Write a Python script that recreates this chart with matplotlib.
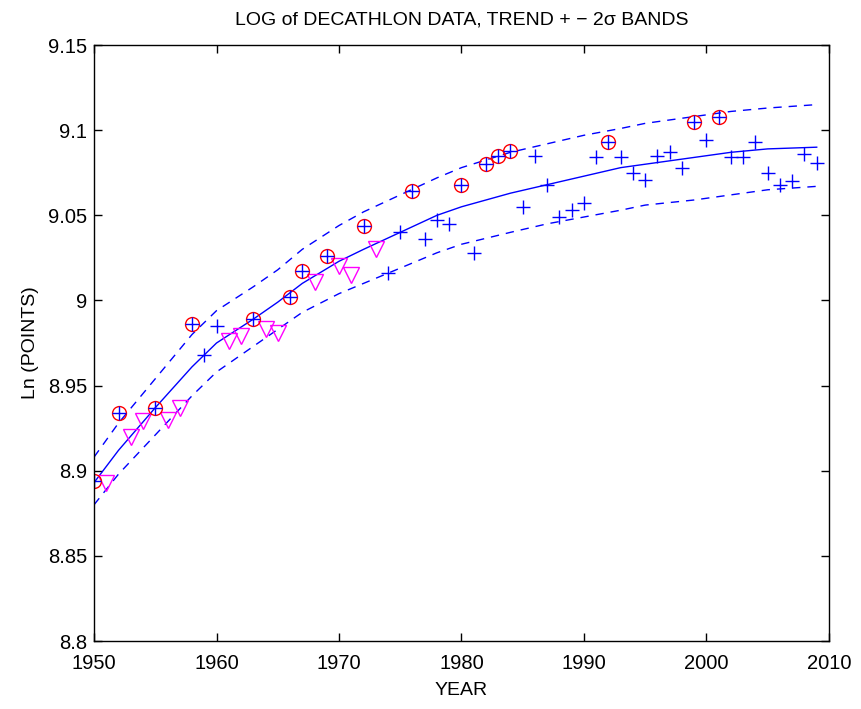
import matplotlib
matplotlib.use("Agg")
import matplotlib.pyplot as plt

# all observed years (blue plus)
plus_years = [1950, 1952, 1955, 1958, 1959, 1960, 1963, 1966, 1967, 1969, 1972,
              1974, 1975, 1976, 1977, 1978, 1979, 1980, 1981, 1982, 1983, 1984,
              1985, 1986, 1987, 1988, 1989, 1990, 1991, 1992, 1993, 1994, 1995,
              1996, 1997, 1998, 1999, 2000, 2001, 2002, 2003, 2004, 2005, 2006,
              2007, 2008, 2009]
plus_vals = [8.894, 8.934, 8.937, 8.986, 8.968, 8.985, 8.989, 9.002, 9.017, 9.026, 9.044,
             9.016, 9.040, 9.064, 9.036, 9.047, 9.045, 9.068, 9.028, 9.080, 9.085, 9.088,
             9.055, 9.085, 9.068, 9.049, 9.053, 9.057, 9.084, 9.093, 9.084, 9.075, 9.071,
             9.085, 9.087, 9.078, 9.105, 9.094, 9.108, 9.084, 9.084, 9.093, 9.075, 9.068,
             9.070, 9.086, 9.081]

# record points (red circles)
rec_years = [1950, 1952, 1955, 1958, 1963, 1966, 1967, 1969, 1972, 1976, 1980,
             1982, 1983, 1984, 1992, 1999, 2001]
rec_vals = [8.894, 8.934, 8.937, 8.986, 8.989, 9.002, 9.017, 9.026, 9.044, 9.064, 9.068,
            9.080, 9.085, 9.088, 9.093, 9.105, 9.108]

# missing years (magenta triangles)
tri_years = [1951, 1953, 1954, 1956, 1957, 1961, 1962, 1964, 1965, 1968, 1970, 1971, 1973]
tri_vals = [8.893, 8.920, 8.929, 8.930, 8.937, 8.976, 8.979, 8.983, 8.981, 9.011, 9.020, 9.015, 9.030]

# trend and +-2 sigma bands
line_years = [1950, 1952, 1955, 1958, 1960, 1963, 1965, 1967, 1970, 1972, 1975,
              1978, 1980, 1984, 1987, 1990, 1993, 1995, 1999, 2002, 2005, 2009]
trend = [8.893, 8.912, 8.937, 8.961, 8.975, 8.989, 8.999, 9.010, 9.023, 9.030, 9.040,
         9.050, 9.055, 9.063, 9.068, 9.073, 9.078, 9.080, 9.084, 9.087, 9.089, 9.090]
upper = [8.908, 8.928, 8.954, 8.980, 8.994, 9.008, 9.018, 9.030, 9.044, 9.052, 9.062,
         9.072, 9.078, 9.087, 9.092, 9.097, 9.101, 9.104, 9.108, 9.111, 9.113, 9.115]
lower = [8.880, 8.898, 8.921, 8.944, 8.958, 8.973, 8.983, 8.993, 9.004, 9.010, 9.019,
         9.028, 9.033, 9.040, 9.045, 9.049, 9.053, 9.056, 9.059, 9.062, 9.065, 9.067]

xticks = [1950, 1960, 1970, 1980, 1990, 2000, 2010]
yticks = [8.8, 8.85, 8.9, 8.95, 9.0, 9.05, 9.1, 9.15]
ytick_labels = ["8.8", "8.85", "8.9", "8.95", "9", "9.05", "9.1", "9.15"]

plt.rcParams['font.family'] = ['Liberation Sans', 'DejaVu Sans']

fig = plt.figure(figsize=(8.61, 7.09), dpi=100)
ax = fig.add_axes([0.1092, 0.0959, 0.8536, 0.8406])

blue = '#0000ff'
ax.plot(line_years, trend, '-', color=blue, lw=1.0)
ax.plot(line_years, upper, '--', color=blue, lw=1.0, dashes=(6, 5))
ax.plot(line_years, lower, '--', color=blue, lw=1.0, dashes=(6, 5))

ax.plot(tri_years, tri_vals, 'v', ms=11, mfc='none', mec='#ff00ff', mew=1.0, ls='none')
ax.plot(rec_years, rec_vals, 'o', ms=10, mfc='none', mec='#ff0000', mew=1.0, ls='none')
ax.plot(plus_years, plus_vals, '+', ms=10, color=blue, mew=1.0, ls='none')

ax.set_xlim(1950, 2010)
ax.set_ylim(8.8, 9.15)
ax.set_xticks(xticks)
ax.set_yticks(yticks)
ax.set_yticklabels(ytick_labels)
ax.tick_params(direction='in', top=True, right=True, labelsize=14.5, length=6, width=1)
ax.tick_params(axis='x', pad=9)
ax.tick_params(axis='y', pad=5)
for s in ax.spines.values():
    s.set_linewidth(1.0)

ax.set_title("LOG of DECATHLON DATA, TREND + \u2212 2\u03c3 BANDS", fontsize=14, pad=15)
ax.set_xlabel("YEAR", fontsize=14, labelpad=7)
ax.set_ylabel("Ln (POINTS)", fontsize=14, labelpad=6)

fig.savefig("out.png", dpi=100)
